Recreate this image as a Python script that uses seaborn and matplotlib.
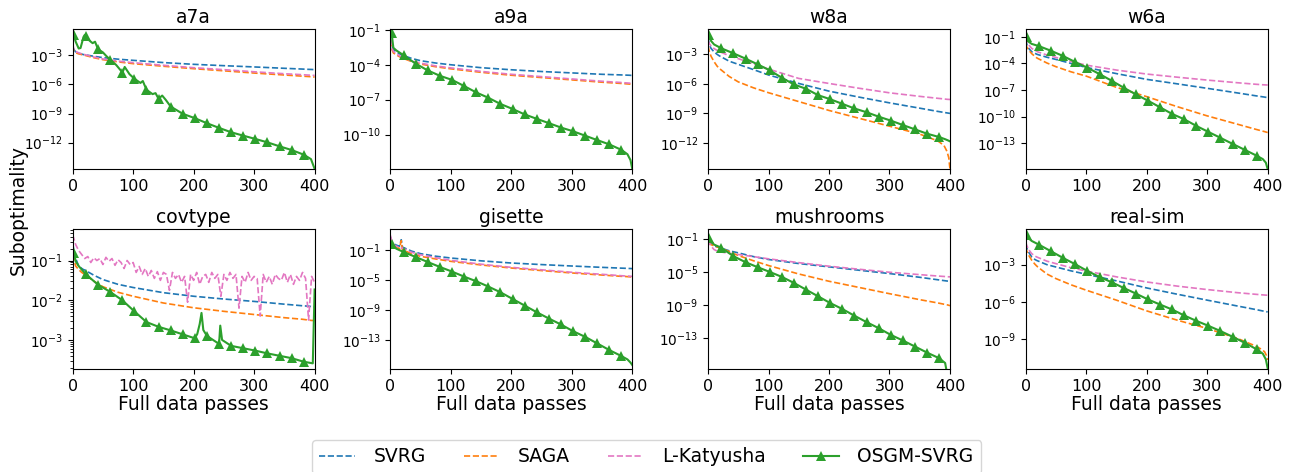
import numpy as np
import matplotlib
matplotlib.use("Agg")
import matplotlib.pyplot as plt
import seaborn as sns

# datasets / methods
datasets = ["a7a", "a9a", "w8a", "w6a", "covtype", "gisette", "mushrooms", "real-sim"]
methods = ["SVRG", "SAGA", "L-Katyusha", "OSGM-SVRG"]
colors = ["#1f77b4", "#ff7f0e", "#e377c2", "#2ca02c"]

# full data passes where baselines were read (values below are log10 suboptimality)
passes = [0, 2, 5, 10, 15, 18, 20, 35, 50, 75, 100, 150, 200, 250, 300, 350, 380, 390, 395, 398, 400]

svrg_log = {
    "a7a": [-2.14, -2.4, -2.66, -2.8, -2.88, -2.93, -2.95, -3.1, -3.24, -3.4, -3.52, -3.75, -3.93, -4.07, -4.2, -4.34, -4.42, -4.45, -4.46, -4.47, -4.48],
    "a9a": [-1.67, -2.3, -2.69, -2.9, -3.05, -3.14, -3.18, -3.45, -3.65, -3.85, -4.0, -4.25, -4.43, -4.58, -4.7, -4.82, -4.87, -4.89, -4.9, -4.91, -4.91],
    "w8a": [-1.3, -2.0, -2.4, -2.76, -3.0, -3.13, -3.2, -3.7, -4.02, -4.55, -5.1, -5.96, -6.74, -7.35, -7.93, -8.47, -8.8, -8.9, -8.95, -8.98, -9.0],
    "w6a": [-1.3, -1.9, -2.3, -2.69, -2.85, -2.95, -3.0, -3.3, -3.55, -4.0, -4.45, -5.15, -5.8, -6.3, -6.81, -7.33, -7.65, -7.75, -7.8, -7.84, -7.86],
    "covtype": [-0.55, -0.75, -0.95, -1.14, -1.2, -1.23, -1.24, -1.37, -1.48, -1.6, -1.68, -1.81, -1.9, -1.97, -2.03, -2.1, -2.14, -2.15, -2.16, -2.17, -2.17],
    "gisette": [0.78, 0.2, -0.11, -0.3, -0.45, 0.42, -0.56, -1.1, -1.44, -1.78, -2.02, -2.4, -2.69, -2.9, -3.09, -3.27, -3.37, -3.4, -3.42, -3.43, -3.44],
    "mushrooms": [-1.28, -1.4, -1.6, -1.85, -1.98, -2.05, -2.09, -2.45, -2.7, -3.15, -3.5, -3.99, -4.39, -4.8, -5.2, -5.65, -5.95, -6.05, -6.1, -6.12, -6.13],
    "real-sim": [-1.32, -1.7, -2.0, -2.39, -2.58, -2.66, -2.7, -3.0, -3.19, -3.5, -3.77, -4.3, -4.87, -5.37, -5.85, -6.32, -6.6, -6.7, -6.75, -6.78, -6.79],
}

saga_log = {
    "a7a": [-2.0, -2.6, -2.75, -2.85, -2.93, -2.98, -3.0, -3.25, -3.45, -3.68, -3.86, -4.13, -4.38, -4.6, -4.83, -5.03, -5.15, -5.19, -5.21, -5.23, -5.24],
    "a9a": [-1.9, -2.6, -2.98, -3.15, -3.3, -3.38, -3.42, -3.72, -3.94, -4.17, -4.35, -4.65, -4.9, -5.1, -5.3, -5.5, -5.6, -5.64, -5.66, -5.67, -5.68],
    "w8a": [-2.15, -2.7, -3.2, -3.75, -4.2, -4.4, -4.5, -5.25, -5.8, -6.4, -6.9, -7.8, -8.7, -9.5, -10.3, -11.1, -11.8, -12.25, -12.85, -13.5, -14.65],
    "w6a": [-1.75, -2.2, -2.5, -2.9, -3.2, -3.36, -3.44, -3.95, -4.37, -4.95, -5.43, -6.7, -7.75, -8.87, -9.92, -10.86, -11.43, -11.61, -11.7, -11.76, -11.8],
    "covtype": [-0.85, -0.95, -1.14, -1.23, -1.3, -1.33, -1.35, -1.52, -1.66, -1.8, -1.9, -2.07, -2.19, -2.28, -2.36, -2.44, -2.48, -2.5, -2.51, -2.51, -2.51],
    "gisette": [0.5, 0.0, -0.44, -0.6, -0.75, 0.3, -0.9, -1.45, -1.8, -2.15, -2.47, -2.95, -3.36, -3.7, -4.02, -4.3, -4.46, -4.5, -4.53, -4.55, -4.56],
    "mushrooms": [-1.48, -1.55, -1.7, -1.85, -1.98, -2.05, -2.09, -2.55, -3.02, -3.65, -4.23, -5.25, -6.13, -6.88, -7.63, -8.35, -8.75, -8.9, -8.97, -9.03, -9.08],
    "real-sim": [-1.59, -1.95, -2.25, -2.65, -2.95, -3.1, -3.19, -3.75, -4.12, -4.62, -5.05, -5.85, -6.71, -7.45, -8.12, -8.92, -9.53, -9.8, -10.0, -10.3, -10.65],
}

katyusha_log = {
    "a7a": [-1.8, -2.4, -2.6, -2.75, -2.85, -2.9, -2.93, -3.18, -3.38, -3.6, -3.76, -4.03, -4.28, -4.48, -4.7, -4.9, -5.0, -5.04, -5.05, -5.07, -5.08],
    "a9a": [-1.8, -2.5, -2.85, -3.05, -3.22, -3.31, -3.35, -3.65, -3.86, -4.1, -4.27, -4.57, -4.82, -5.02, -5.22, -5.42, -5.52, -5.56, -5.58, -5.59, -5.6],
    "w8a": [-1.64, -1.9, -2.15, -2.42, -2.6, -2.7, -2.75, -3.15, -3.44, -3.95, -4.5, -5.45, -5.96, -6.45, -6.91, -7.27, -7.47, -7.53, -7.57, -7.58, -7.59],
    "w6a": [-1.0, -1.5, -1.9, -2.31, -2.5, -2.62, -2.7, -3.05, -3.32, -3.8, -4.19, -4.75, -5.2, -5.55, -5.88, -6.18, -6.35, -6.4, -6.42, -6.43, -6.44],
    "gisette": [1.0, 0.4, -0.2, -0.45, -0.6, -0.65, -0.7, -1.25, -1.6, -1.98, -2.33, -2.85, -3.27, -3.6, -3.93, -4.2, -4.38, -4.43, -4.45, -4.47, -4.48],
    "mushrooms": [-1.1, -1.5, -1.89, -2.3, -2.48, -2.55, -2.58, -2.75, -2.9, -3.15, -3.42, -3.88, -4.31, -4.68, -5.04, -5.33, -5.5, -5.55, -5.58, -5.59, -5.6],
    "real-sim": [-1.19, -1.5, -1.8, -2.12, -2.3, -2.38, -2.42, -2.72, -2.92, -3.25, -3.51, -3.98, -4.39, -4.72, -5.0, -5.25, -5.38, -5.42, -5.44, -5.45, -5.45],
}

# L-Katyusha on covtype is noisy, read every 5 passes
katyusha_covtype_x = list(range(0, 401, 5))
katyusha_covtype_log = [
    -0.35, -0.6, -0.75, -0.85, -0.95, -0.9, -1.05, -0.93, -1.0, -0.95,
    -1.1, -0.92, -1.02, -0.95, -1.12, -0.98, -1.05, -1.2, -1.0, -1.1,
    -1.05, -1.3, -1.15, -1.35, -1.2, -1.4, -1.25, -1.45, -1.28, -1.5,
    -1.3, -1.35, -1.75, -1.3, -1.45, -1.35, -1.55, -1.4, -2.05, -1.35,
    -1.5, -1.3, -1.6, -1.4, -1.35, -1.55, -1.3, -1.45, -1.35, -1.9,
    -1.35, -1.5, -1.3, -1.45, -1.35, -2.2, -1.4, -1.55, -1.3, -1.5,
    -1.4, -1.45, -2.4, -1.35, -1.55, -1.4, -1.6, -1.35, -1.45, -1.5,
    -1.3, -1.55, -1.35, -1.6, -1.4, -1.5, -1.3, -1.45, -2.5, -1.4,
    -1.55,
]

# OSGM-SVRG
osgm_passes = [0, 2, 5, 10, 22, 42, 62, 82, 102, 122, 142, 162, 182, 202, 222, 242, 262, 282, 302, 322, 342, 362, 382, 392, 397, 400]
osgm_x = {
    "a7a": [0, 2, 5, 10, 13, 18, 20, 22, 28, 33, 37, 42, 50, 56, 62, 72, 80, 82, 86, 94, 102, 112, 116, 122, 132,
            137, 142, 148, 154, 162, 182, 202, 222, 242, 262, 282, 302, 322, 342, 362, 382, 394, 400],
    "covtype": [0, 2, 5, 10, 22, 42, 62, 82, 102, 122, 142, 162, 182, 202, 206, 210, 213, 216, 222, 235,
                240, 242, 244, 247, 262, 282, 302, 322, 342, 362, 382, 397, 400],
}
osgm_log = {
    "a7a": [-0.76, -0.93, -1.6, -2.3, -2.25, -1.1, -0.9, -1.03, -1.5, -1.75, -1.6, -2.38, -2.7, -3.1, -3.45,
            -4.0, -4.6, -4.83, -4.2, -4.95, -5.41, -5.85, -5.65, -6.55, -7.0, -6.9, -7.48, -7.15, -7.6, -8.28,
            -9.03, -9.48, -10.0, -10.48, -10.93, -11.28, -11.62, -11.97, -12.38, -12.76, -13.24, -13.7, -14.7],
    "a9a": [-0.94, -1.23, -2.54, -2.77, -3.18, -3.91, -4.49, -4.95, -5.3, -5.83, -6.38, -6.84, -7.37, -7.8,
            -8.27, -8.65, -9.02, -9.4, -9.72, -10.1, -10.48, -10.85, -11.32, -11.7, -12.2, -12.97],
    "w8a": [-0.79, -1.06, -1.64, -2.0, -2.39, -2.9, -3.44, -4.02, -4.63, -5.38, -6.06, -6.5, -7.15, -7.56,
            -8.03, -8.5, -8.88, -9.33, -9.73, -10.18, -10.62, -11.06, -11.4, -11.62, -11.75, -11.84],
    "w6a": [-0.55, -1.0, -1.56, -1.8, -2.05, -2.58, -3.17, -3.85, -4.49, -5.2, -5.95, -6.74, -7.49, -8.2,
            -8.95, -9.7, -10.3, -11.05, -11.73, -12.4, -13.08, -13.75, -14.42, -14.8, -15.2, -15.92],
    "covtype": [-0.78, -0.8, -1.02, -1.14, -1.35, -1.61, -1.79, -2.0, -2.28, -2.55, -2.67, -2.76, -2.86, -2.96,
                -2.85, -2.6, -2.32, -2.75, -2.9, -3.03, -3.08, -3.11, -2.64, -3.0, -3.15, -3.21, -3.27, -3.34,
                -3.4, -3.46, -3.55, -3.59, -1.73],
    "gisette": [0.11, -0.11, -0.47, -0.78, -1.22, -1.89, -2.56, -3.22, -3.84, -4.51, -5.13, -5.84, -6.6, -7.49,
                -8.38, -9.27, -10.11, -10.91, -11.8, -12.56, -13.44, -14.33, -15.13, -15.58, -16.0, -16.33],
    "mushrooms": [-0.68, -0.88, -1.3, -1.7, -2.09, -3.1, -3.83, -4.43, -5.0, -5.6, -6.33, -7.14, -7.95, -8.76,
                  -9.48, -10.29, -11.06, -11.79, -12.6, -13.28, -14.01, -14.74, -15.42, -16.0, -18.0, -18.0],
    "real-sim": [-0.47, -0.65, -0.9, -1.1, -1.4, -1.93, -2.47, -2.97, -3.51, -3.99, -4.41, -4.87, -5.32, -5.79,
                 -6.2, -6.6, -7.08, -7.51, -7.91, -8.33, -8.79, -9.27, -9.8, -10.15, -10.6, -11.32],
}
marker_passes = list(range(2, 383, 20))

# axis ranges and tick decades (log10)
ylims = {"a7a": (-14.72, -0.24), "a9a": (-12.97, -0.88), "w8a": (-14.65, -0.38), "w6a": (-15.92, -0.06),
         "covtype": (-3.74, -0.2), "gisette": (-16.9, 1.89), "mushrooms": (-16.76, 0.21), "real-sim": (-11.4, -0.12)}
ytick_exps = {"a7a": [-3, -6, -9, -12], "a9a": [-1, -4, -7, -10], "w8a": [-3, -6, -9, -12],
              "w6a": [-1, -4, -7, -10, -13], "covtype": [-1, -2, -3], "gisette": [-1, -5, -9, -13],
              "mushrooms": [-1, -5, -9, -13], "real-sim": [-3, -6, -9]}

fig, axes = plt.subplots(2, 4, figsize=(12.93, 4.72), dpi=100)
fig.subplots_adjust(left=0.0562, right=0.9804, top=0.9396, bottom=0.2176, wspace=0.313, hspace=0.425)

for ax, name in zip(axes.flat, datasets):
    sns.lineplot(x=passes, y=10.0 ** np.array(svrg_log[name]), ax=ax, color=colors[0],
                 linestyle="--", linewidth=1.2, label=methods[0], errorbar=None)
    sns.lineplot(x=passes, y=10.0 ** np.array(saga_log[name]), ax=ax, color=colors[1],
                 linestyle="--", linewidth=1.2, label=methods[1], errorbar=None)
    if name == "covtype":
        kx, ky = katyusha_covtype_x, katyusha_covtype_log
    else:
        kx, ky = passes, katyusha_log[name]
    sns.lineplot(x=kx, y=10.0 ** np.array(ky), ax=ax, color=colors[2],
                 linestyle="--", linewidth=1.2, label=methods[2], errorbar=None)
    gx = osgm_x.get(name, osgm_passes)
    mk = [i for i, v in enumerate(gx) if v in marker_passes]
    sns.lineplot(x=gx, y=10.0 ** np.array(osgm_log[name]), ax=ax, color=colors[3],
                 linewidth=1.5, marker="^", markersize=6.5, markeredgewidth=0, markevery=mk,
                 label=methods[3], errorbar=None)

    ax.set_yscale("log")
    lo, hi = ylims[name]
    ax.set_ylim(10.0 ** lo, 10.0 ** hi)
    ax.set_yticks([10.0 ** e for e in ytick_exps[name]])
    ax.set_xlim(0, 400)
    ax.set_xticks([0, 100, 200, 300, 400])
    ax.tick_params(axis="x", labelsize=11.5)
    ax.tick_params(axis="y", labelsize=9.8)
    ax.set_title(name, fontsize=13.5, pad=4)
    ax.set_ylabel("")
    if ax.get_legend() is not None:
        ax.get_legend().remove()

for ax in axes[1]:
    ax.set_xlabel("Full data passes", fontsize=13.5, labelpad=1)

fig.text(0.014, 0.555, "Suboptimality", rotation=90, ha="center", va="center", fontsize=13.5)

handles, labels = axes[0, 0].get_legend_handles_labels()
fig.legend(handles, labels, loc="upper center", bbox_to_anchor=(0.5, 1 - 440 / 472), ncol=4,
           fontsize=13.5, handlelength=1.9, handletextpad=1.0, columnspacing=2.0, frameon=True,
           borderaxespad=0.0)

fig.savefig("out.png", dpi=100)
